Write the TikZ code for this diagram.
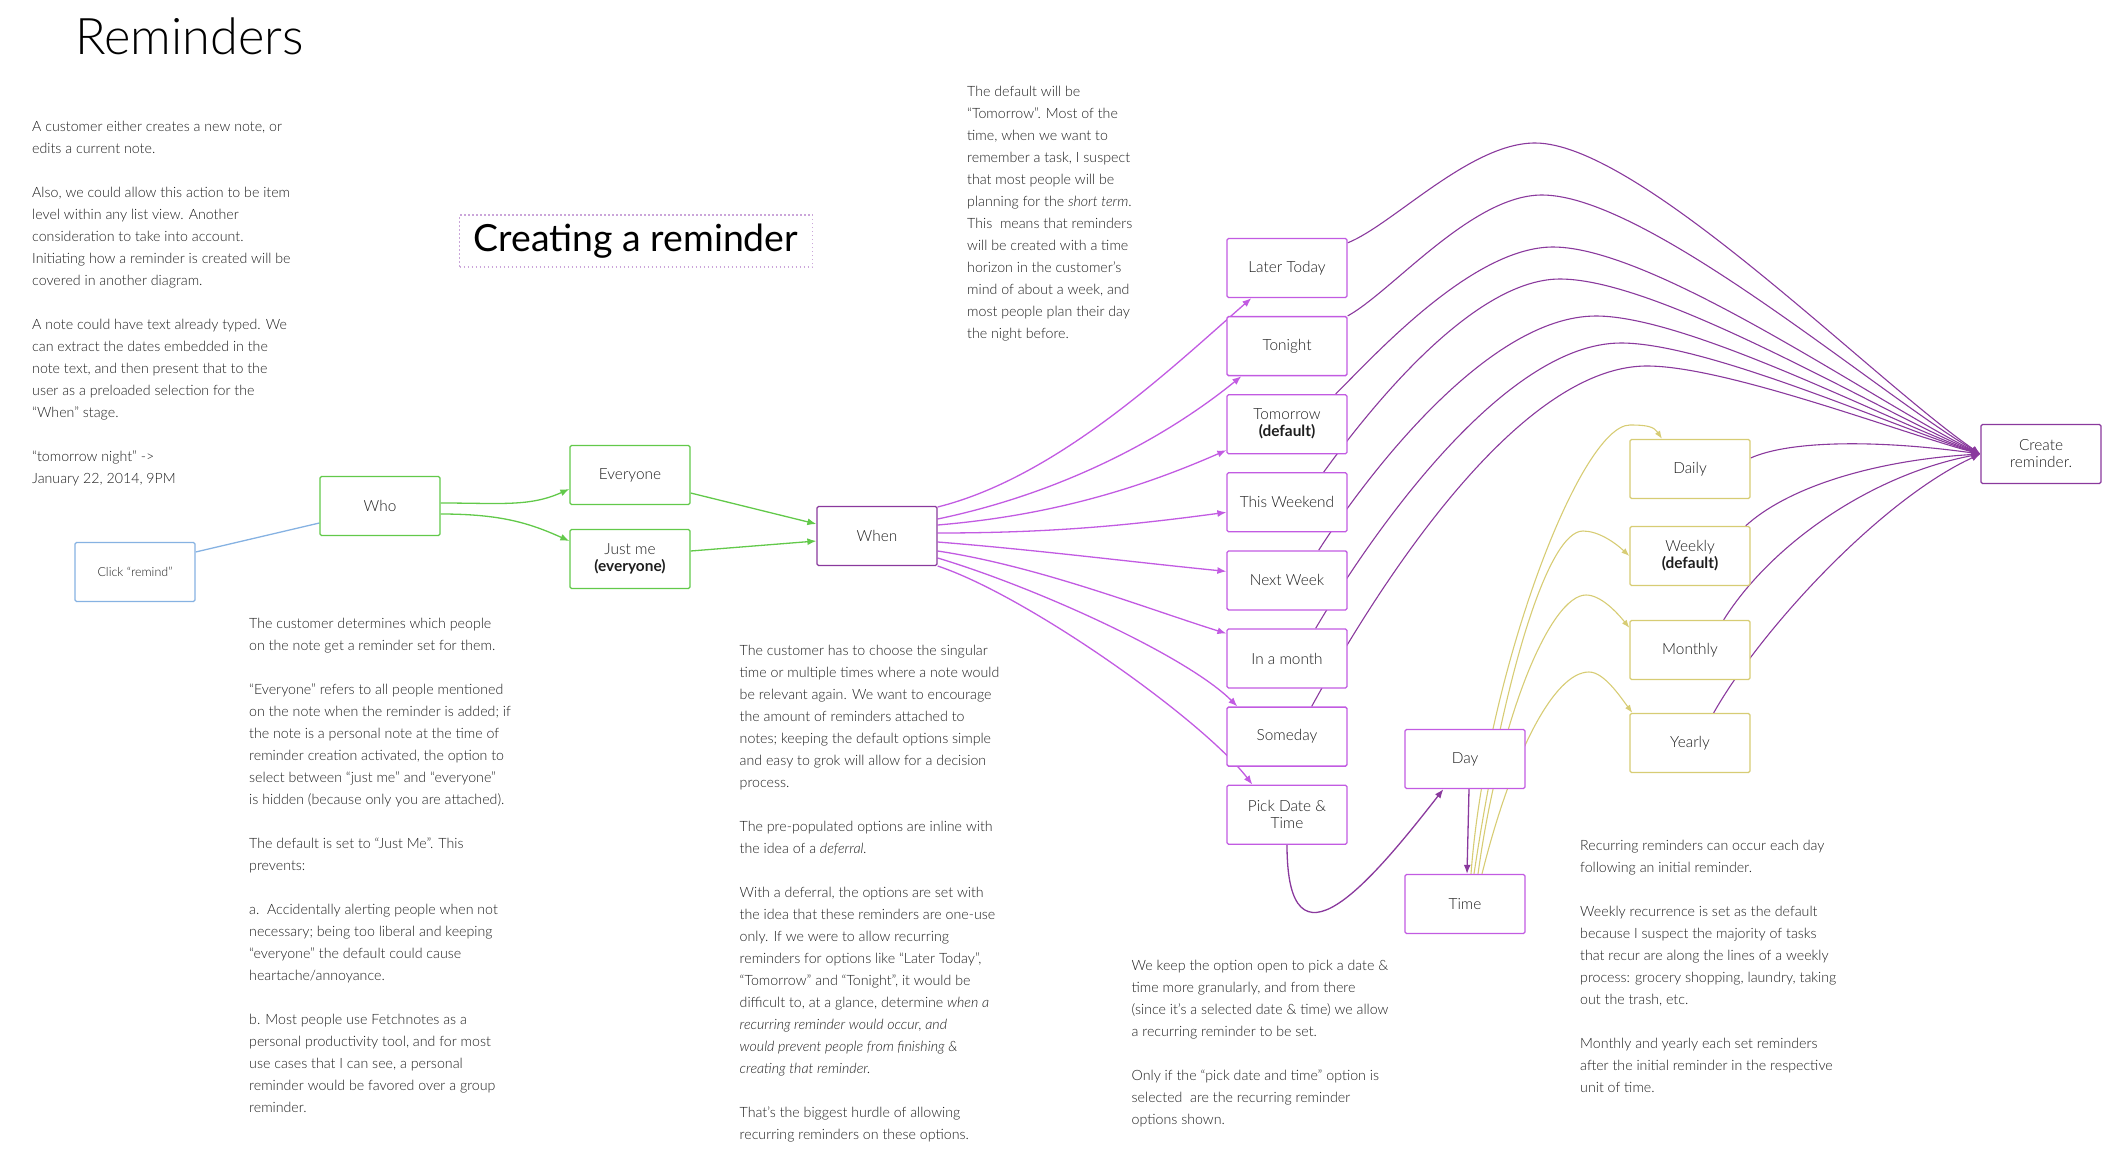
\documentclass[tikz,border=0pt]{standalone}
\usepackage{fontspec}
\setmainfont{Lato}[UprightFont=* Light,ItalicFont=* Light Italic,BoldFont=* Bold,BoldItalicFont=* Bold Italic]
\newfontfamily\headingfont{Lato}
\usepackage{tikz}
\usetikzlibrary{arrows.meta,positioning,backgrounds}
\definecolor{RemindBlue}{HTML}{86B2E2}
\definecolor{RemindGreen}{HTML}{62C94A}
\definecolor{RemindLilac}{HTML}{C25BE2}
\definecolor{RemindPlum}{HTML}{8A399D}
\definecolor{RemindGold}{HTML}{D7CC74}
\definecolor{RemindDots}{HTML}{CBA6DA}
\definecolor{RemindInk}{HTML}{1E1E1E}

\begin{document}
\begin{tikzpicture}[x=1pt,y=-1pt,>={Latex[length=9pt,width=7pt]},
  stage/.style={draw,rounded corners=1.5pt,line width=1.3pt,fill=white,
    minimum width=120pt,minimum height=59pt,align=center,text=RemindInk,
    font=\fontsize{15.4}{17}\selectfont},
  note/.style={anchor=north west,inner sep=0pt,align=left,text=RemindInk,
    font=\fontsize{14.2}{22}\selectfont},
  whoarrow/.style={->,line width=1.3pt,RemindGreen},
  fanarrow/.style={->,line width=1.3pt,RemindLilac},
  plumarrow/.style={->,line width=1.3pt,RemindPlum},
  tocreate/.style={->,line width=1.1pt,RemindPlum},
  repeatarrow/.style={-{Latex[length=8pt,width=6pt]},line width=1.1pt,RemindGold}]
  \useasboundingbox (0,0) rectangle (2112,1162);

  % headings
  \node[anchor=base west,font=\fontsize{50.5}{50}\selectfont] (title) at (72,54) {Reminders};
  \node[draw=RemindDots,line width=1.2pt,dash pattern=on 1.5pt off 2.5pt,
    minimum width=353pt,minimum height=52pt,font=\headingfont\fontsize{37.4}{40}\selectfont]
    (heading) at (636,241) {Creating a reminder};

  % who
  \node[stage,draw=RemindBlue,font=\fontsize{12.5}{14}\selectfont] (click) at (135,572) {Click “remind”};
  \node[stage,draw=RemindGreen] (who) at (380,506) {Who};
  \node[stage,draw=RemindGreen] (everyone) at (630,475) {Everyone};
  \node[stage,draw=RemindGreen] (justme) at (630,559) {Just me\\\textbf{(everyone)}};

  % when
  \node[stage,draw=RemindPlum] (when) at (877,536) {When};
  \node[stage,draw=RemindLilac] (later) at (1287,268) {Later Today};
  \node[stage,draw=RemindLilac,below=17.8pt of later] (tonight) {Tonight};
  \node[stage,draw=RemindLilac,below=17.8pt of tonight] (tomorrow) {Tomorrow\\\textbf{(default)}};
  \node[stage,draw=RemindLilac,below=17.8pt of tomorrow] (weekend) {This Weekend};
  \node[stage,draw=RemindLilac,below=17.8pt of weekend] (nextweek) {Next Week};
  \node[stage,draw=RemindLilac,below=17.8pt of nextweek] (month) {In a month};
  \node[stage,draw=RemindLilac,below=17.8pt of month] (someday) {Someday};
  \node[stage,draw=RemindLilac,below=17.8pt of someday] (pick) {Pick Date \&\\Time};

  % recurring
  \node[stage,draw=RemindLilac] (day) at (1465,759) {Day};
  \node[stage,draw=RemindLilac] (time) at (1465,904) {Time};
  \node[stage,draw=RemindGold] (daily) at (1690,469) {Daily};
  \node[stage,draw=RemindGold] (weekly) at (1690,556) {Weekly\\\textbf{(default)}};
  \node[stage,draw=RemindGold] (monthly) at (1690,650) {Monthly};
  \node[stage,draw=RemindGold] (yearly) at (1690,743) {Yearly};
  \node[stage,draw=RemindPlum] (create) at (2041,454) {Create\\reminder.};

  \begin{pgfonlayer}{background}
    \draw[line width=1.3pt,RemindBlue] ([yshift=20pt]click.east) -- ([yshift=-17pt]who.west);
    \draw[whoarrow] ([yshift=3pt]who.east) .. controls +(60,0) and +(-40,18) .. ([yshift=-14pt]everyone.west);
    \draw[whoarrow] ([yshift=-8pt]who.east) .. controls +(60,0) and +(-40,-18) .. ([yshift=18pt]justme.west);
    \draw[whoarrow] ([yshift=-18pt]everyone.east) -- ([yshift=12pt]when.west);
    \draw[whoarrow] ([yshift=8pt]justme.east) -- ([yshift=-5pt]when.west);

    \draw[fanarrow] ([yshift=29pt]when.east) .. controls +(120,-30) and +(-80,70) .. ([xshift=25pt]later.south west);
    \draw[fanarrow] ([yshift=17pt]when.east) .. controls +(120,-25) and +(-80,65) .. ([xshift=15pt]tonight.south west);
    \draw[fanarrow] ([yshift=11pt]when.east) .. controls +(120,-10) and +(-80,35) .. ([yshift=-26pt]tomorrow.west);
    \draw[fanarrow] ([yshift=3pt]when.east) .. controls +(120,0) and +(-90,12) .. ([yshift=-10pt]weekend.west);
    \draw[fanarrow] ([yshift=-6pt]when.east) .. controls +(100,8) and +(-100,-10) .. ([yshift=9pt]nextweek.west);
    \draw[fanarrow] ([yshift=-15pt]when.east) .. controls +(100,15) and +(-80,-25) .. ([yshift=25pt]month.west);
    \draw[fanarrow] ([yshift=-22pt]when.east) .. controls +(100,30) and +(-50,-50) .. ([xshift=11pt]someday.north west);
    \draw[fanarrow] ([yshift=-30pt]when.east) .. controls +(90,30) and +(-50,-65) .. ([xshift=26pt]pick.north west);

    \draw[tocreate] ([yshift=-5pt]later.north east) .. controls +(45,-18) and +(-65,0) .. (1535,143)
      .. controls +(105,0) and +(-108,-74) .. (create.west);
    \draw[tocreate] (tonight.north east) .. controls +(45,-25) and +(-70,0) .. (1542,195)
      .. controls +(105,0) and +(-105,-62) .. (create.west);
    \draw[tocreate] ([xshift=-12pt]tomorrow.north east) .. controls +(40,-40) and +(-80,0) .. (1553,247)
      .. controls +(102,0) and +(-102,-50) .. (create.west);
    \draw[tocreate] ([xshift=-24pt]weekend.north east) .. controls +(40,-55) and +(-90,0) .. (1560,279)
      .. controls +(100,0) and +(-100,-42) .. (create.west);
    \draw[tocreate] ([xshift=-29pt]nextweek.north east) .. controls +(45,-70) and +(-110,0) .. (1596,316)
      .. controls +(92,0) and +(-92,-33) .. (create.west);
    \draw[tocreate] ([xshift=-32pt]month.north east) .. controls +(50,-85) and +(-120,0) .. (1621,343)
      .. controls +(86,0) and +(-86,-27) .. (create.west);
    \draw[tocreate] ([xshift=-36pt]someday.north east) .. controls +(55,-100) and +(-135,0) .. (1647,366)
      .. controls +(79,0) and +(-79,-21) .. (create.west);
    \draw[tocreate] ([yshift=11pt]daily.east) .. controls +(40,-18) and +(-100,-14) .. (create.west);
    \draw[tocreate] ([xshift=-5pt]weekly.north east) .. controls +(45,-41) and +(-100,6) .. (create.west);
    \draw[tocreate] ([xshift=-27pt]monthly.north east) .. controls +(47,-75) and +(-110,21) .. (create.west);
    \draw[tocreate] ([xshift=-37pt]yearly.north east) .. controls +(47,-83) and +(-100,46) .. (create.west);

    \draw[plumarrow] (pick.south) .. controls +(0,136) and +(-74,95) .. ([xshift=39pt]day.south west);
    \draw[plumarrow] ([xshift=4pt]day.south) -- ([xshift=2pt]time.north);

    \draw[repeatarrow] ([xshift=6pt]time.north) .. controls +(15,-200) and +(-50,0) .. (1630,425)
      .. controls +(18,0) and +(-8,-12) .. ([xshift=-28pt]daily.north);
    \draw[repeatarrow] ([xshift=9pt]time.north) .. controls +(30,-200) and +(-35,0) .. (1583,531)
      .. controls +(15,0) and +(-15,-14) .. (weekly.west);
    \draw[repeatarrow] ([xshift=13pt]time.north) .. controls +(22,-160) and +(-35,0) .. (1586,595)
      .. controls +(15,0) and +(-12,-15) .. ([yshift=-8pt]monthly.north west);
    \draw[repeatarrow] ([xshift=17pt]time.north) .. controls +(30,-120) and +(-35,0) .. (1589,672)
      .. controls +(15,0) and +(-12,-16) .. ([xshift=3pt]yearly.north west);
  \end{pgfonlayer}

  % notes
  \node[note] (intronote) at (32,121) {A customer either creates a new note, or\\edits a current note.\\[22pt]
    Also, we could allow this action to be item\\level within any list view. Another\\consideration to take into account.\\Initiating how a reminder is created will be\\covered in another diagram.\\[22pt]
    A note could have text already typed. We\\can extract the dates embedded in the\\note text, and then present that to the\\user as a preloaded selection for the\\“When” stage.\\[22pt]
    “tomorrow night” ->\\January 22, 2014, 9PM};
  \node[note] (whonote) at (249,618) {The customer determines which people\\on the note get a reminder set for them.\\[22pt]
    “Everyone” refers to all people mentioned\\on the note when the reminder is added; if\\the note is a personal note at the time of\\reminder creation activated, the option to\\select between “just me” and “everyone”\\is hidden (because only you are attached).\\[22pt]
    The default is set to “Just Me”. This\\prevents:\\[22pt]
    a.\ \ Accidentally alerting people when not\\necessary; being too liberal and keeping\\“everyone” the default could cause\\heartache/annoyance.\\[22pt]
    b. Most people use Fetchnotes as a\\personal productivity tool, and for most\\use cases that I can see, a personal\\reminder would be favored over a group\\reminder.};
  \node[note] (whennote) at (739.5,645) {The customer has to choose the singular\\time or multiple times where a note would\\be relevant again. We want to encourage\\the amount of reminders attached to\\notes; keeping the default options simple\\and easy to grok will allow for a decision\\process.\\[22pt]
    The pre-populated options are inline with\\the idea of a \textit{deferral.}\\[22pt]
    With a deferral, the options are set with\\the idea that these reminders are one-use\\only. If we were to allow recurring\\reminders for options like “Later Today”,\\“Tomorrow” and “Tonight”, it would be\\difficult to, at a glance, determine \textit{when a}\\\textit{recurring reminder would occur, and}\\\textit{would prevent people from finishing \&}\\\textit{creating that reminder.}\\[22pt]
    That’s the biggest hurdle of allowing\\recurring reminders on these options.};
  \node[note] (defaultnote) at (967,86) {The default will be\\“Tomorrow”. Most of the\\time, when we want to\\remember a task, I suspect\\that most people will be\\planning for the \textit{short term}.\\This\ \ means that reminders\\will be created with a time\\horizon in the customer’s\\mind of about a week, and\\most people plan their day\\the night before.};
  \node[note] (picknote) at (1131.5,960) {We keep the option open to pick a date \&\\time more granularly, and from there\\(since it’s a selected date \& time) we allow\\a recurring reminder to be set.\\[22pt]
    Only if the “pick date and time” option is\\selected\ \ are the recurring reminder\\options shown.};
  \node[note] (repeatnote) at (1580,840) {Recurring reminders can occur each day\\following an initial reminder.\\[22pt]
    Weekly recurrence is set as the default\\because I suspect the majority of tasks\\that recur are along the lines of a weekly\\process: grocery shopping, laundry, taking\\out the trash, etc.\\[22pt]
    Monthly and yearly each set reminders\\after the initial reminder in the respective\\unit of time.};
\end{tikzpicture}
\end{document}
